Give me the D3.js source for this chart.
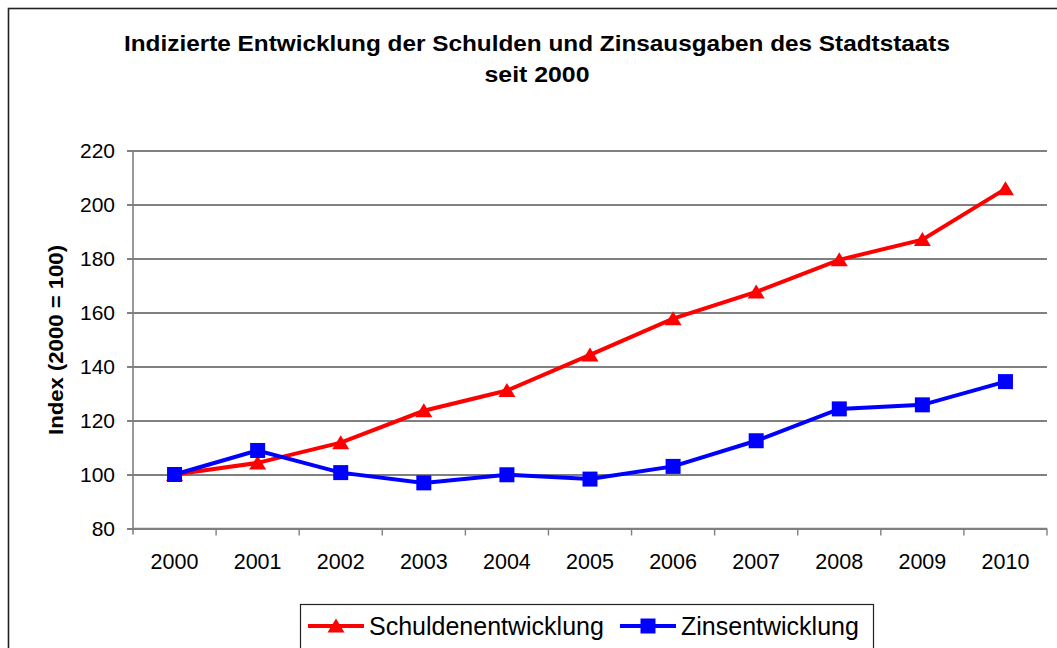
<!DOCTYPE html>
<html>
<head>
<meta charset="utf-8">
<script src="https://cdn.jsdelivr.net/npm/d3@7"></script>
<style>
  body { margin: 0; background: #fff; }
  svg { display: block; font-family: "Liberation Sans", Arial, sans-serif; }
</style>
</head>
<body>
<svg width="1057" height="648"></svg>
<script>
// Daten (Index 2000 = 100)
var years = ["2000", "2001", "2002", "2003", "2004", "2005", "2006", "2007", "2008", "2009", "2010"];
var schulden = [100, 104.3, 111.8, 123.6, 131.1, 144.3, 157.7, 167.6, 179.5, 187.0, 205.8];
var zinsen = [100, 108.9, 100.7, 96.9, 99.9, 98.3, 103.0, 112.5, 124.3, 125.8, 134.4];
var yTicks = [80, 100, 120, 140, 160, 180, 200, 220];
var seriesNames = ["Schuldenentwicklung", "Zinsentwicklung"];

var svg = d3.select("svg"),
    margin = {top: 150.5, right: 10, bottom: 119.5, left: 133},
    width = 1047 - margin.left,
    height = 528.5 - margin.top;

// äusserer Rahmen
svg.append("rect")
    .attr("x", 8.5).attr("y", 8.5)
    .attr("width", 1070).attr("height", 680)
    .attr("fill", "none").attr("stroke", "#222").attr("stroke-width", 1.6);

// Titel (leicht horizontal gestreckt wie im Original)
var title = svg.append("text")
    .attr("text-anchor", "middle")
    .attr("font-weight", "bold")
    .attr("font-size", 21.5);
title.append("tspan").attr("x", 537).attr("y", 51)
    .attr("textLength", 826).attr("lengthAdjust", "spacingAndGlyphs")
    .text("Indizierte Entwicklung der Schulden und Zinsausgaben des Stadtstaats");
title.append("tspan").attr("x", 537).attr("y", 82)
    .attr("textLength", 105).attr("lengthAdjust", "spacingAndGlyphs")
    .text("seit 2000");

var x = d3.scaleBand().domain(years).range([0, width]).padding(0),
    y = d3.scaleLinear().domain([80, 220]).range([height, 0]);

var g = svg.append("g")
    .attr("transform", "translate(" + margin.left + "," + margin.top + ")");

// Gitterlinien (mit kleinen Strichen links der Achse)
g.append("g")
    .attr("class", "grid")
    .call(d3.axisLeft(y).tickValues(yTicks).tickSize(-(width + 6)).tickFormat(""))
    .attr("transform", "translate(" + width + ",0)")
    .call(function(s) {
      s.select(".domain").remove();
      s.selectAll("line").attr("stroke", "#000").attr("stroke-width", 1)
        .attr("x2", -(width + 6));
    });

// y Achse
g.append("g")
    .call(d3.axisLeft(y).tickValues(yTicks).tickSize(0).tickPadding(18))
    .call(function(s) {
      s.select(".domain").remove();
      s.selectAll("text").attr("font-size", 21).attr("fill", "#000")
        .attr("font-family", "Liberation Sans, Arial, sans-serif");
    });

g.append("line")
    .attr("x1", 0).attr("x2", 0).attr("y1", 0).attr("y2", height + 6)
    .attr("stroke", "#808080").attr("stroke-width", 1.6);

// x Achse
var xAxis = g.append("g")
    .attr("transform", "translate(0," + height + ")");
xAxis.append("line")
    .attr("x1", 0).attr("x2", width)
    .attr("stroke", "#808080").attr("stroke-width", 1.6);
xAxis.selectAll(".tick")
    .data(years)
    .enter().append("line")
      .attr("x1", function(d) { return x(d) + x.bandwidth(); })
      .attr("x2", function(d) { return x(d) + x.bandwidth(); })
      .attr("y1", 0).attr("y2", 7)
      .attr("stroke", "#808080").attr("stroke-width", 1.4);
xAxis.selectAll(".lbl")
    .data(years)
    .enter().append("text")
      .attr("x", function(d) { return x(d) + x.bandwidth() / 2; })
      .attr("y", 40.5)
      .attr("text-anchor", "middle")
      .attr("font-size", 21.5)
      .text(function(d) { return d; });

// y Achsentitel
svg.append("text")
    .attr("transform", "translate(63,340) rotate(-90)")
    .attr("text-anchor", "middle")
    .attr("font-weight", "bold")
    .attr("font-size", 21)
    .attr("textLength", 190).attr("lengthAdjust", "spacingAndGlyphs")
    .text("Index (2000 = 100)");

var line = d3.line()
    .x(function(d, i) { return x(years[i]) + x.bandwidth() / 2; })
    .y(function(d) { return y(d); });

var triangle = "M0,-7.5L8.5,6.5L-8.5,6.5Z";

// Schulden
g.append("path").datum(schulden)
    .attr("d", line).attr("fill", "none")
    .attr("stroke", "#ff0000").attr("stroke-width", 4);
g.selectAll(".tri")
    .data(schulden)
    .enter().append("path")
      .attr("class", "tri")
      .attr("d", triangle)
      .attr("fill", "#ff0000")
      .attr("transform", function(d, i) {
        return "translate(" + (x(years[i]) + x.bandwidth() / 2) + "," + y(d) + ")";
      });

// Zinsen
g.append("path").datum(zinsen)
    .attr("d", line).attr("fill", "none")
    .attr("stroke", "#0000ff").attr("stroke-width", 4);
g.selectAll(".sq")
    .data(zinsen)
    .enter().append("rect")
      .attr("class", "sq")
      .attr("x", function(d, i) { return x(years[i]) + x.bandwidth() / 2 - 7.5; })
      .attr("y", function(d) { return y(d) - 7.5; })
      .attr("width", 15).attr("height", 15)
      .attr("fill", "#0000ff");

// Legende
var legend = svg.append("g");
legend.append("rect")
    .attr("x", 300.5).attr("y", 604.5)
    .attr("width", 573).attr("height", 80)
    .attr("fill", "#fff").attr("stroke", "#222").attr("stroke-width", 1.2);

var leg = legend.selectAll(".item")
    .data(seriesNames)
    .enter().append("g")
      .attr("transform", function(d, i) { return "translate(" + (i === 0 ? 308 : 620) + ",626)"; });
leg.append("line")
    .attr("x1", 0).attr("x2", 56)
    .attr("stroke", function(d, i) { return i === 0 ? "#ff0000" : "#0000ff"; })
    .attr("stroke-width", 4);
leg.filter(function(d, i) { return i === 0; }).append("path")
    .attr("d", triangle).attr("transform", "translate(28,0)").attr("fill", "#ff0000");
leg.filter(function(d, i) { return i === 1; }).append("rect")
    .attr("x", 20.5).attr("y", -7.5).attr("width", 15).attr("height", 15).attr("fill", "#0000ff");
leg.append("text")
    .attr("x", 61).attr("y", 9)
    .attr("font-size", 25)
    .text(function(d) { return d; });
</script>
</body>
</html>
